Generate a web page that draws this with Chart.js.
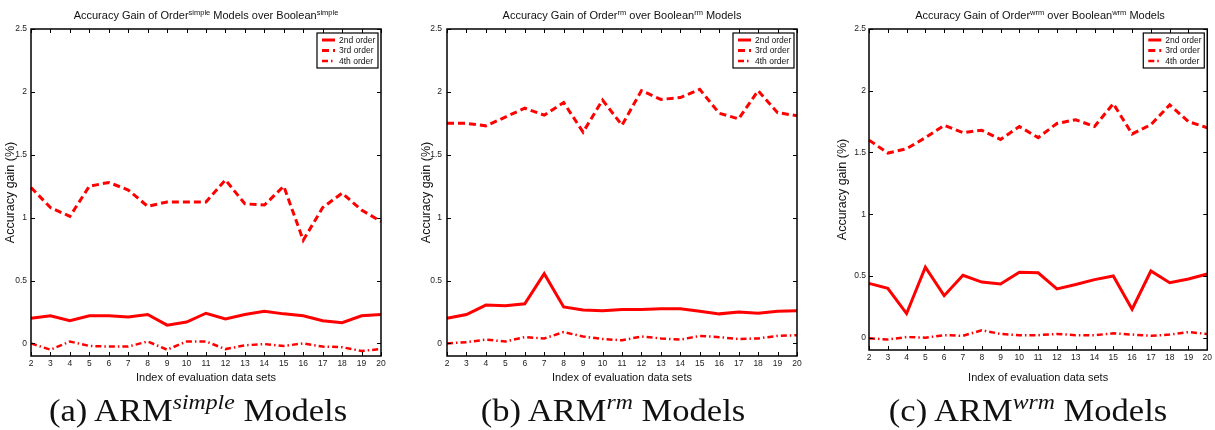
<!DOCTYPE html>
<html>
<head>
<meta charset="utf-8">
<script src="https://cdn.jsdelivr.net/npm/chart.js@4.4.0/dist/chart.umd.min.js"></script>
<style>
  body { margin: 0; background: #fff; }
  .page { position: relative; width: 1215px; height: 430px; overflow: hidden; background: #fff; }
  .panel { position: absolute; top: 0; }
  .ttl { position: absolute; top: 9px; font: 11px "Liberation Sans", Arial, sans-serif; color: #111; white-space: nowrap; transform: translateX(-50%); line-height: 13px; }
  .ttl sup { font-size: 7.5px; vertical-align: 4px; line-height: 0; }
  .cap { position: absolute; top: 392px; font: 32px "Liberation Serif", "Times New Roman", serif; color: #111; white-space: nowrap; transform: translateX(-50%) scaleX(1.08); line-height: 36px; }
  .cap sup { font-style: italic; font-size: 22px; vertical-align: 12px; line-height: 0; }
</style>
</head>
<body>
<div class="page">
  <canvas id="ca" class="panel" style="left:0px" width="405" height="392"></canvas>
  <canvas id="cb" class="panel" style="left:405px" width="405" height="392"></canvas>
  <canvas id="cc" class="panel" style="left:810px" width="405" height="392"></canvas>

  <div class="ttl" style="left:206px">Accuracy Gain of Order<sup>simple</sup> Models over Boolean<sup>simple</sup></div>
  <div class="ttl" style="left:622px">Accuracy Gain of Order<sup>rm</sup> over Boolean<sup>rm</sup> Models</div>
  <div class="ttl" style="left:1040px">Accuracy Gain of Order<sup>wrm</sup> over Boolean<sup>wrm</sup> Models</div>

  <div class="cap" style="left:198px">(a) ARM<sup>simple</sup> Models</div>
  <div class="cap" style="left:613px">(b) ARM<sup>rm</sup> Models</div>
  <div class="cap" style="left:1028px">(c) ARM<sup>wrm</sup> Models</div>
</div>
<script>
// evaluation data set index (x axis)
let xLabels = [2, 3, 4, 5, 6, 7, 8, 9, 10, 11, 12, 13, 14, 15, 16, 17, 18, 19, 20];
let yTicks = [0, 0.5, 1, 1.5, 2, 2.5];
let seriesNames = ["2nd order", "3rd order", "4th order"];

// (a) ARM simple
let simple2nd = [0.20, 0.22, 0.18, 0.22, 0.22, 0.21, 0.23, 0.145, 0.17, 0.24, 0.195, 0.23, 0.255, 0.235, 0.22, 0.18, 0.165, 0.22, 0.23];
let simple3rd = [1.24, 1.08, 1.01, 1.25, 1.28, 1.22, 1.09, 1.125, 1.125, 1.125, 1.30, 1.11, 1.10, 1.25, 0.82, 1.08, 1.195, 1.06, 0.97];
let simple4th = [0, -0.05, 0.015, -0.02, -0.025, -0.025, 0.015, -0.05, 0.015, 0.015, -0.045, -0.015, -0.005, -0.02, 0, -0.025, -0.03, -0.06, -0.045];

// (b) ARM rm
let rm2nd = [0.20, 0.23, 0.305, 0.30, 0.315, 0.555, 0.29, 0.265, 0.26, 0.27, 0.27, 0.275, 0.275, 0.255, 0.235, 0.25, 0.24, 0.255, 0.26];
let rm3rd = [1.75, 1.75, 1.73, 1.80, 1.87, 1.815, 1.915, 1.68, 1.935, 1.735, 2.01, 1.94, 1.955, 2.02, 1.83, 1.785, 2.01, 1.835, 1.81];
let rm4th = [0, 0.01, 0.03, 0.015, 0.05, 0.04, 0.09, 0.055, 0.035, 0.025, 0.055, 0.04, 0.03, 0.06, 0.05, 0.035, 0.04, 0.06, 0.065];

// (c) ARM wrm
let wrm2nd = [0.44, 0.40, 0.195, 0.57, 0.34, 0.505, 0.45, 0.435, 0.53, 0.525, 0.395, 0.43, 0.47, 0.50, 0.23, 0.54, 0.445, 0.475, 0.515];
let wrm3rd = [1.60, 1.495, 1.53, 1.62, 1.72, 1.66, 1.68, 1.605, 1.71, 1.62, 1.735, 1.765, 1.71, 1.895, 1.65, 1.725, 1.885, 1.75, 1.70];
let wrm4th = [-0.005, -0.015, 0.005, 0, 0.02, 0.015, 0.06, 0.03, 0.02, 0.02, 0.03, 0.02, 0.02, 0.035, 0.025, 0.015, 0.025, 0.045, 0.03];

let red = "#ff0000";
let lineStyles = [
    {borderWidth: 3, borderDash: []},
    {borderWidth: 3, borderDash: [7, 4]},
    {borderWidth: 2.5, borderDash: [6, 3, 1.5, 3]}
];

// box, inward ticks and legend drawn MATLAB style
let matlabFrame = {
    id: "matlabFrame",
    afterDraw(chart) {
        let ctx = chart.ctx;
        let a = chart.chartArea;
        let xs = chart.scales.x, ys = chart.scales.y;
        ctx.save();
        ctx.strokeStyle = "#000";
        ctx.lineWidth = 1;
        ctx.beginPath();
        xs.ticks.forEach((t, i) => {
            let px = Math.round(xs.getPixelForTick(i)) + 0.5;
            ctx.moveTo(px, a.top); ctx.lineTo(px, a.top + 4);
            ctx.moveTo(px, a.bottom); ctx.lineTo(px, a.bottom - 4);
        });
        ys.ticks.forEach(t => {
            let py = Math.round(ys.getPixelForValue(t.value)) + 0.5;
            ctx.moveTo(a.left, py); ctx.lineTo(a.left + 4, py);
            ctx.moveTo(a.right, py); ctx.lineTo(a.right - 4, py);
        });
        ctx.stroke();
        ctx.lineWidth = 1.5;
        ctx.strokeRect(a.left, a.top, a.right - a.left, a.bottom - a.top);

        // legend box
        let w = 61, h = 35;
        let lx = a.right - 3 - w, ly = a.top + 4;
        ctx.fillStyle = "#fff";
        ctx.fillRect(lx, ly, w, h);
        ctx.lineWidth = 1.2;
        ctx.strokeRect(lx, ly, w, h);
        ctx.font = "8.5px 'Liberation Sans', Arial, sans-serif";
        ctx.textBaseline = "middle";
        chart.data.datasets.forEach((ds, i) => {
            let ry = ly + 7 + i * 10.5;
            ctx.strokeStyle = ds.borderColor;
            ctx.lineWidth = ds.borderWidth;
            ctx.setLineDash(ds.borderDash);
            ctx.beginPath();
            ctx.moveTo(lx + 5, ry); ctx.lineTo(lx + 18, ry);
            ctx.stroke();
            ctx.setLineDash([]);
            ctx.fillStyle = "#111";
            ctx.fillText(ds.label, lx + 22, ry + 0.5);
        });
        ctx.restore();
    }
};

let createPanel = (canvas, series, lay) => {
    let datasets = series.map((d, i) => ({
        label: seriesNames[i],
        data: d,
        borderColor: red,
        backgroundColor: red,
        borderWidth: lineStyles[i].borderWidth,
        borderDash: lineStyles[i].borderDash,
        pointRadius: 0,
        tension: 0,
        fill: false
    }));
    let family = "'Liberation Sans', Arial, sans-serif";
    let tickFont = {family: family, size: 8.5};
    return new Chart(canvas, {
        type: "line",
        data: {labels: xLabels, datasets: datasets},
        options: {
            responsive: false,
            animation: false,
            layout: {padding: {top: 29, right: 405 - lay.right, left: 0, bottom: 0}},
            plugins: {legend: {display: false}, tooltip: {enabled: false}},
            scales: {
                x: {
                    type: "category",
                    offset: false,
                    grid: {display: false, drawTicks: false},
                    border: {display: false},
                    ticks: {font: tickFont, color: "#222", padding: lay.xTickPad, maxRotation: 0, autoSkip: false},
                    title: {display: true, text: "Index of evaluation data sets", font: {family: family, size: 11}, color: "#111", padding: {top: 0, bottom: lay.xTitlePad}},
                    afterFit: s => { s.height = 392 - lay.bottom; }
                },
                y: {
                    min: -0.1,
                    max: 2.5,
                    afterBuildTicks: s => { s.ticks = yTicks.map(v => ({value: v})); },
                    grid: {display: false, drawTicks: false},
                    border: {display: false},
                    ticks: {font: tickFont, color: "#222", padding: lay.yTickPad, callback: v => String(v)},
                    title: {display: true, text: "Accuracy gain (%)", font: {family: family, size: 12.5}, color: "#111", padding: {top: lay.yTitlePad, bottom: 0}},
                    afterFit: s => { s.width = lay.left; }
                }
            }
        },
        plugins: [matlabFrame]
    });
};

createPanel(document.getElementById("ca"), [simple2nd, simple3rd, simple4th],
    {left: 31, right: 381, bottom: 356, xTickPad: 3, xTitlePad: 7, yTickPad: 4, yTitlePad: 3});
createPanel(document.getElementById("cb"), [rm2nd, rm3rd, rm4th],
    {left: 42, right: 392, bottom: 356, xTickPad: 3, xTitlePad: 7, yTickPad: 5, yTitlePad: 14});
createPanel(document.getElementById("cc"), [wrm2nd, wrm3rd, wrm4th],
    {left: 59, right: 400, bottom: 350, xTickPad: 3, xTitlePad: 7, yTickPad: 3, yTitlePad: 25});
</script>
</body>
</html>
